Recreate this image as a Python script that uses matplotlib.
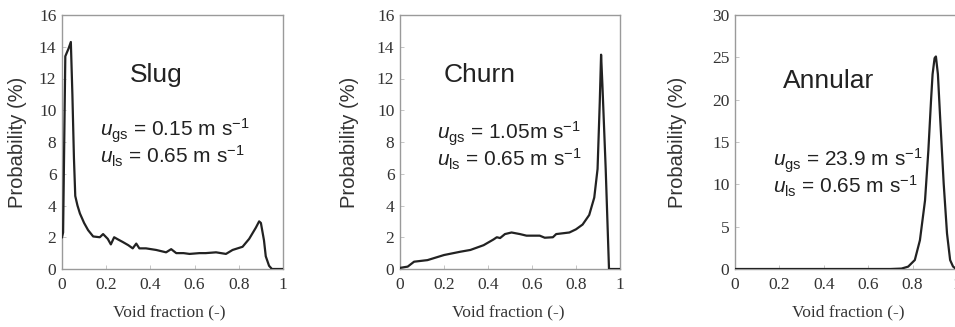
import matplotlib
matplotlib.use("Agg")
import matplotlib.pyplot as plt

plt.rcParams['mathtext.fontset'] = 'custom'
plt.rcParams['mathtext.rm'] = 'Liberation Sans'
plt.rcParams['mathtext.it'] = 'Liberation Sans:italic'
plt.rcParams['mathtext.bf'] = 'Liberation Sans:bold'

# ---- data ----
slug_x = [0, 0.005, 0.015, 0.03, 0.04, 0.047, 0.054, 0.06, 0.07, 0.081, 0.1, 0.118,
          0.141, 0.171, 0.186, 0.207, 0.221, 0.236, 0.255, 0.275, 0.30, 0.32, 0.336,
          0.35, 0.38, 0.426, 0.471, 0.494, 0.517, 0.55, 0.577, 0.622, 0.65, 0.697,
          0.742, 0.772, 0.817, 0.847, 0.877, 0.892, 0.9, 0.914, 0.922, 0.937, 0.95, 1.0]
slug_y = [2.0, 2.3, 13.4, 13.9, 14.3, 11.0, 7.0, 4.6, 4.0, 3.5, 2.9, 2.45,
          2.05, 2.0, 2.2, 1.9, 1.55, 2.0, 1.85, 1.7, 1.5, 1.3, 1.6,
          1.3, 1.3, 1.2, 1.05, 1.25, 1.0, 1.0, 0.95, 1.0, 1.0, 1.05,
          0.95, 1.2, 1.4, 1.9, 2.6, 3.0, 2.9, 1.8, 0.8, 0.2, 0.0, 0.0]

churn_x = [0, 0.035, 0.064, 0.125, 0.2, 0.275, 0.32, 0.38, 0.425, 0.44, 0.455, 0.477,
           0.507, 0.545, 0.575, 0.605, 0.635, 0.658, 0.695, 0.71, 0.77, 0.8, 0.83,
           0.86, 0.883, 0.898, 0.908, 0.914, 0.92, 0.935, 0.95, 1.0]
churn_y = [0.07, 0.15, 0.46, 0.56, 0.88, 1.09, 1.2, 1.5, 1.86, 2.0, 1.95, 2.2,
           2.3, 2.2, 2.1, 2.1, 2.1, 1.97, 2.0, 2.2, 2.3, 2.5, 2.8,
           3.4, 4.5, 6.3, 10.5, 13.5, 11.6, 6.3, 0.0, 0.0]

annular_x = [0, 0.7, 0.75, 0.78, 0.81, 0.833, 0.856, 0.871, 0.883, 0.89, 0.899, 0.905,
             0.914, 0.924, 0.94, 0.955, 0.969, 0.982, 0.992, 1.0]
annular_y = [0, 0, 0.05, 0.28, 1.06, 3.4, 8.1, 14.0, 19.9, 23.0, 24.9, 25.1,
             23.0, 17.9, 10.1, 4.2, 1.06, 0.3, 0.08, 0.0]

titles = ["Slug", "Churn", "Annular"]
ugs_labels = ["0.15 m s", "1.05m s", "23.9 m s"]
uls_labels = ["0.65 m s", "0.65 m s", "0.65 m s"]
ymax = [16, 16, 30]
ystep = [2, 2, 5]
xticks = [0, 0.2, 0.4, 0.6, 0.8, 1.0]
xticklabels = ["0", "0.2", "0.4", "0.6", "0.8", "1"]

series = [(slug_x, slug_y), (churn_x, churn_y), (annular_x, annular_y)]

W, H = 955, 327
fig = plt.figure(figsize=(W / 100, H / 100), dpi=100)

# pixel layout: (left, width)
lefts = [62, 400, 735]
widths = [221, 220, 222]
top_px, bot_px = 15, 269

title_pos = [(0.428, 0.764), (0.36, 0.764), (0.42, 0.740)]
line_pos = [(0.171, 0.496), (0.17, 0.484), (0.17, 0.380)]
ylab_x = [-0.158, -0.186, -0.216]
xlab_x = [0.486, 0.49, 0.51]

spine_col = "#9a9a9a"
tick_col = "#333333"
curve_col = "#222222"

for i in range(3):
    ax = fig.add_axes([lefts[i] / W, (H - bot_px) / H, widths[i] / W, (bot_px - top_px) / H])
    x, y = series[i]
    ax.plot(x, y, color=curve_col, lw=1.6, solid_joinstyle='round', zorder=3)
    ax.set_xlim(0, 1)
    ax.set_ylim(0, ymax[i])
    ax.set_xticks(xticks)
    ax.set_xticklabels(xticklabels)
    ax.set_yticks(list(range(0, ymax[i] + 1, ystep[i])))
    for s in ax.spines.values():
        s.set_color(spine_col)
        s.set_linewidth(1.0)
    ax.tick_params(direction='in', length=3, width=0.6, color='#bbbbbb',
                   labelcolor=tick_col, labelsize=12.5)
    ax.tick_params(axis='x', pad=6)
    ax.tick_params(axis='y', pad=4)
    for lab in ax.get_xticklabels() + ax.get_yticklabels():
        lab.set_fontfamily('Liberation Serif')
    ax.set_ylabel("Probability (%)", fontfamily='Liberation Sans', fontsize=14.5,
                  color='#333333')
    ax.yaxis.set_label_coords(ylab_x[i], 0.5)
    ax.set_xlabel("Void fraction (-)", fontfamily='Liberation Serif', fontsize=12.5,
                  color='#333333')
    ax.xaxis.set_label_coords(xlab_x[i], -0.14)

    tx, ty = title_pos[i]
    ax.text(tx, ty, titles[i], transform=ax.transAxes, ha='center', va='center',
            fontfamily='Liberation Sans', fontsize=19, color='#222222')
    lx, ly = line_pos[i]
    txt = (r"$u_{\mathrm{gs}}$ = " + ugs_labels[i] + r"$^{-1}$" + "\n"
           + r"$u_{\mathrm{ls}}$ = " + uls_labels[i] + r"$^{-1}$")
    ax.text(lx, ly, txt, transform=ax.transAxes, ha='left', va='center',
            linespacing=0.95, fontfamily='Liberation Sans', fontsize=15,
            color='#222222')

fig.savefig("out.png", dpi=100, facecolor='white')
